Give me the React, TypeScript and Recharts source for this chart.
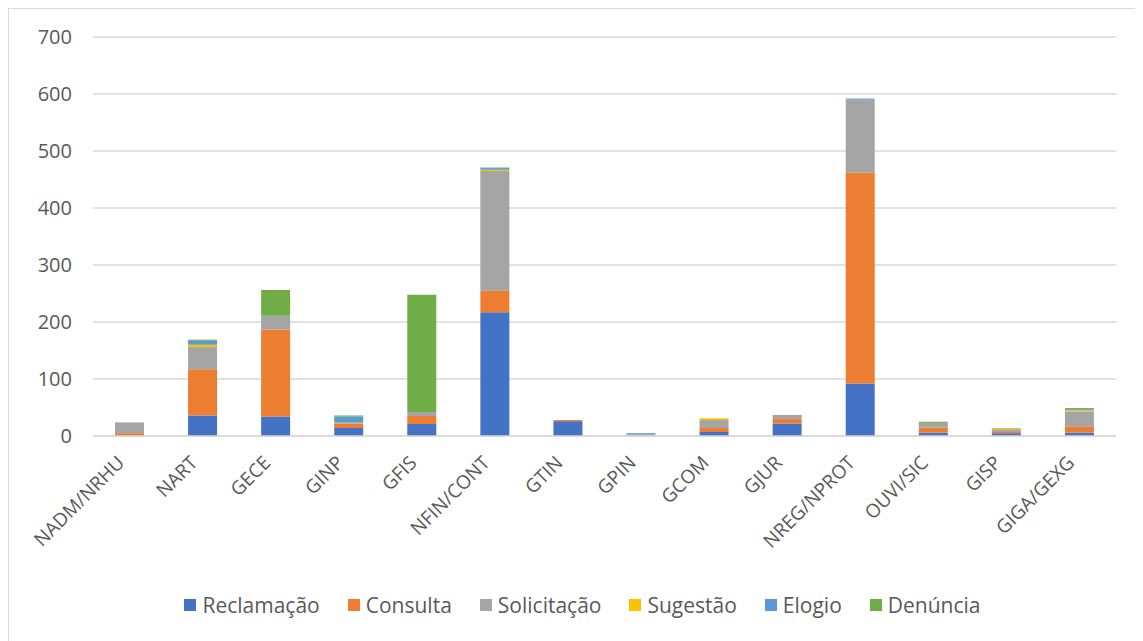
import * as React from 'react';
import { BarChart, Bar, XAxis, YAxis, CartesianGrid, Legend } from 'recharts';

// Manifestações por unidade, empilhadas por tipo
const units = [
  'NADM/NRHU', 'NART', 'GECE', 'GINP', 'GFIS', 'NFIN/CONT', 'GTIN',
  'GPIN', 'GCOM', 'GJUR', 'NREG/NPROT', 'OUVI/SIC', 'GISP', 'GIGA/GEXG',
];
const reclamacao = [0, 36, 34, 14, 21, 217, 26, 0, 7, 22, 92, 6, 5, 6];
const consulta = [5, 81, 153, 8, 14, 38, 2, 0, 7, 8, 370, 9, 2, 11];
const solicitacao = [19, 39, 24, 2, 7, 210, 0, 3, 14, 7, 128, 8, 5, 26];
const sugestao = [0, 4, 0, 0, 0, 2, 0, 0, 3, 0, 0, 0, 2, 2];
const elogio = [0, 7, 0, 10, 0, 3, 0, 2, 0, 0, 2, 0, 0, 2];
const denuncia = [0, 2, 45, 2, 206, 1, 0, 0, 0, 0, 0, 2, 0, 2];
const yTicks = [0, 100, 200, 300, 400, 500, 600, 700];

const series = [
  { key: 'Reclamação', values: reclamacao, color: '#4472C4' },
  { key: 'Consulta', values: consulta, color: '#ED7D31' },
  { key: 'Solicitação', values: solicitacao, color: '#A5A5A5' },
  { key: 'Sugestão', values: sugestao, color: '#FFC000' },
  { key: 'Elogio', values: elogio, color: '#5B9BD5' },
  { key: 'Denúncia', values: denuncia, color: '#70AD47' },
];

const rows = units.map((name, i) => {
  const row: Record<string, any> = { name };
  series.forEach((s) => { row[s.key] = s.values[i]; });
  return row;
});

const textColor = '#595959';
const font = "'Open Sans', sans-serif";

function UnitTick({ x, y, payload }: any) {
  return (
    <g transform={`translate(${x - 4},${y + 20})`}>
      <text transform="rotate(-45)" textAnchor="end" fill={textColor} fontSize={19} fontFamily={font}>
        {payload.value}
      </text>
    </g>
  );
}

function LegendRow() {
  return (
    <div style={{ display: 'flex', justifyContent: 'center', gap: 28, height: 32, alignItems: 'center', paddingLeft: 40 }}>
      {series.map((s) => (
        <div key={s.key} style={{ display: 'flex', alignItems: 'center', gap: 6 }}>
          <span style={{ width: 12, height: 12, background: s.color, display: 'inline-block' }} />
          <span style={{ color: textColor, fontSize: 21, fontFamily: font }}>{s.key}</span>
        </div>
      ))}
    </div>
  );
}

export default function App() {
  return (
    <div
      style={{
        width: 1135,
        height: 633,
        borderTop: '1px solid #d9d9d9',
        borderLeft: '1px solid #d9d9d9',
        boxSizing: 'border-box',
        background: '#fff',
        fontFamily: font,
      }}
    >
      <BarChart
        width={1134}
        height={632}
        data={rows}
        margin={{ top: 28, right: 27, left: 0, bottom: 20 }}
        barSize={29}
      >
        <CartesianGrid vertical={false} stroke="#d9d9d9" strokeWidth={1.5} />
        <XAxis
          dataKey="name"
          interval={0}
          height={153}
          tickLine={false}
          axisLine={{ stroke: '#d9d9d9', strokeWidth: 1.5 }}
          tick={<UnitTick />}
        />
        <YAxis
          width={84}
          domain={[0, 700]}
          ticks={yTicks}
          axisLine={false}
          tickLine={false}
          tickMargin={15}
          tick={{ fill: textColor, fontSize: 20, fontFamily: font }}
        />
        <Legend verticalAlign="bottom" content={<LegendRow />} />
        {series.map((s) => (
          <Bar key={s.key} dataKey={s.key} stackId="a" fill={s.color} isAnimationActive={false} />
        ))}
      </BarChart>
    </div>
  );
}
